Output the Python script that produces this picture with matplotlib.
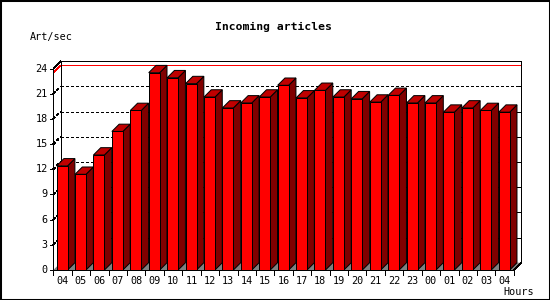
import matplotlib
matplotlib.use("Agg")
import matplotlib.pyplot as plt
from matplotlib.patches import Polygon, Rectangle

hours = ["04", "05", "06", "07", "08", "09", "10", "11", "12", "13", "14", "15", "16",
         "17", "18", "19", "20", "21", "22", "23", "00", "01", "02", "03", "04"]
values = [12.4, 11.4, 13.7, 16.5, 19.0, 23.5, 22.9, 22.2, 20.6, 19.3, 19.9, 20.6, 22.0,
          20.5, 21.4, 20.6, 20.4, 20.0, 20.8, 19.9, 19.9, 18.8, 19.3, 19.0, 18.8]
yticks = [0, 3, 6, 9, 12, 15, 18, 21, 24]
title = "Incoming articles"
ylabel = "Art/sec"
xlabel = "Hours"

W, H = 550, 300
fig = plt.figure(figsize=(W / 100, H / 100), dpi=100)
fig.patch.set_facecolor("white")

# front plane in pixels
x0p, x1p = 53.3, 513.8
y0p, y1p = 270.0, 68.5
ax = fig.add_axes([x0p / W, 1 - y0p / H, (x1p - x0p) / W, (y0p - y1p) / H])
n = len(values)
ymax = yticks[-1]
ax.set_xlim(0, n)
ax.set_ylim(0, ymax)
ax.axis("off")

depth_px = 7.3
dx = depth_px / ((x1p - x0p) / n)
dy = depth_px / ((y0p - y1p) / ymax)

LW = 0.5
FRONT = "#ff0000"
SIDE = "#800000"
TOP = "#c00000"
FLOOR = "#808080"

def line(xs, ys, **kw):
    kw.setdefault("color", "black")
    kw.setdefault("lw", LW)
    ax.plot(xs, ys, clip_on=False, solid_capstyle="butt", antialiased=False, **kw)

# back wall frame
line([dx, n + dx], [ymax + dy, ymax + dy], zorder=2)
line([dx, dx], [dy, ymax + dy], zorder=2)
line([n + dx, n + dx], [dy, ymax + dy], zorder=2)
line([0, dx], [ymax, ymax + dy], zorder=2)

# grid on back wall and left side wall
for t in yticks[1:-1]:
    line([dx, n + dx], [t + dy, t + dy], ls=(0, (4, 4)), zorder=1)
    line([0, dx], [t, t + dy], ls=(0, (4, 4)), zorder=1)
    # tick on right wall
    line([n + dx - 0.2, n + dx], [t + dy, t + dy], zorder=1)

# max line
vmax = max(values)
line([dx, n + dx], [vmax + dy, vmax + dy], color="red", zorder=1.5)
line([0, dx], [vmax, vmax + dy], color="red", zorder=1.5)

# floor
ax.add_patch(Polygon([(0, 0), (n, 0), (n + dx, dy), (dx, dy)], closed=True,
                     facecolor=FLOOR, edgecolor="none", clip_on=False, zorder=3))

# bars
bl, br = 0.18, 0.776
for i, v in enumerate(values):
    xa, xb = i + bl, i + br
    z = 4 + i * 0.01
    ax.add_patch(Polygon([(xb, 0), (xb + dx, dy), (xb + dx, v + dy), (xb, v)], closed=True,
                         facecolor=SIDE, edgecolor="black", lw=0.72, clip_on=False, zorder=z))
    ax.add_patch(Polygon([(xa, v), (xb, v), (xb + dx, v + dy), (xa + dx, v + dy)], closed=True,
                         facecolor=TOP, edgecolor="black", lw=0.72, clip_on=False, zorder=z))
    ax.add_patch(Rectangle((xa, 0), xb - xa, v, facecolor=FRONT, edgecolor="black",
                           lw=0.72, clip_on=False, zorder=z + 0.005))

# front axes
line([0, 0], [0, ymax], zorder=10)
line([0, n], [0, 0], zorder=10)
line([n, n + dx], [0, dy], zorder=10)

font = dict(family="DejaVu Sans Mono", fontsize=7.3)
for t in yticks:
    line([-0.18, 0], [t, t], zorder=10)
    ax.text(-0.3, t, str(t), ha="right", va="center", **font)
for i in range(n + 1):
    line([i, i], [0, -0.55], zorder=10)
for i, h in enumerate(hours):
    ax.text(i + 0.5, -0.75, h, ha="center", va="top", **font)

fig.text(273.5 / W, 1 - 26.5 / H, title, ha="center", va="center",
         family="DejaVu Sans Mono", fontweight="bold", fontsize=8.2)
fig.text(30 / W, 1 - 37 / H, ylabel, ha="left", va="center", **font)
fig.text(534 / W, 1 - 292 / H, xlabel, ha="right", va="center", **font)

fig.add_artist(Rectangle((0, 0), 1, 1, transform=fig.transFigure, fill=False,
                         edgecolor="black", lw=2.2))

fig.savefig("out.png", dpi=100)
